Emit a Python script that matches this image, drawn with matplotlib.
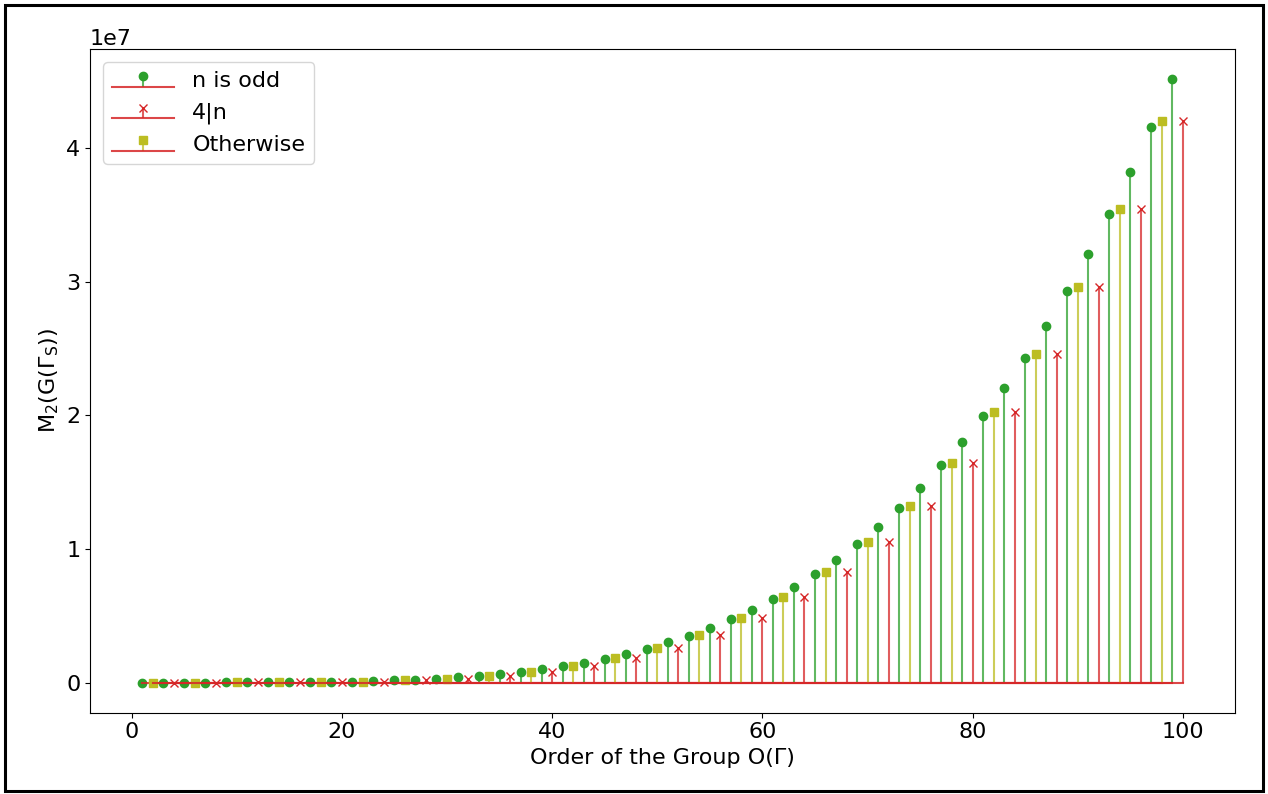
import matplotlib
matplotlib.use("Agg")
import matplotlib.pyplot as plt
from matplotlib.patches import Rectangle

# group orders, split by residue
odd_n = list(range(1, 100, 2))
four_n = list(range(4, 101, 4))
other_n = list(range(2, 99, 4))

# M2 values
odd_vals = [0, 0, 0, 0, 2000, 4000, 9000, 17000, 29000, 47000,
            72000, 107000, 152000, 211000, 286000, 378000, 492000, 629000, 794000, 988000,
            1217000, 1483000, 1790000, 2142000, 2545000, 3001000, 3517000, 4096000, 4743000, 5465000,
            6266000, 7152000, 8129000, 9202000, 10380000, 11660000, 13070000, 14590000, 16250000, 18040000,
            19970000, 22060000, 24300000, 26720000, 29310000, 32080000, 35050000, 38210000, 41590000, 45180000]
four_vals = [0, 0, 2000, 10000, 31000, 76000, 159000, 296000, 508000, 817000,
             1248000, 1832000, 2599000, 3586000, 4830000, 6372000, 8258000, 10530000, 13250000, 16460000,
             20220000, 24600000, 29650000, 35430000, 42030000]
other_vals = [0, 0, 2000, 10000, 31000, 76000, 159000, 296000, 508000, 817000,
              1248000, 1832000, 2599000, 3586000, 4830000, 6372000, 8258000, 10530000, 13250000, 16460000,
              20220000, 24600000, 29650000, 35430000, 42030000]

plt.rcParams["font.size"] = 16

fig = plt.figure(figsize=(12.68, 7.94), dpi=100)
ax = fig.add_axes([0.071, 0.1024, 0.903, 0.836])

series = [
    (odd_n, odd_vals, "C2-", "C2o", "n is odd"),
    (four_n, four_vals, "C3-", "C3x", "4|n"),
    (other_n, other_vals, "C8-", "C8s", "Otherwise"),
]
for xs, ys, lfmt, mfmt, lab in series:
    markers, stems, base = ax.stem(xs, ys, linefmt=lfmt, markerfmt=mfmt, basefmt="C3-", label=lab)
    stems.set_alpha(0.75)
    base.set_alpha(0.85)

ax.set_xlabel("Order of the Group O(Γ)")
ax.set_ylabel(r"M$_2$(G(Γ$_\mathrm{S}$))")
ax.legend(loc="upper left", handlelength=2.8, borderaxespad=0.6)

# outer frame around the whole figure
fig.patches.append(Rectangle((0.004, 0.004), 0.992, 0.99, transform=fig.transFigure,
                             fill=False, lw=2.2, ec="black"))

fig.savefig("out.png", dpi=100)
